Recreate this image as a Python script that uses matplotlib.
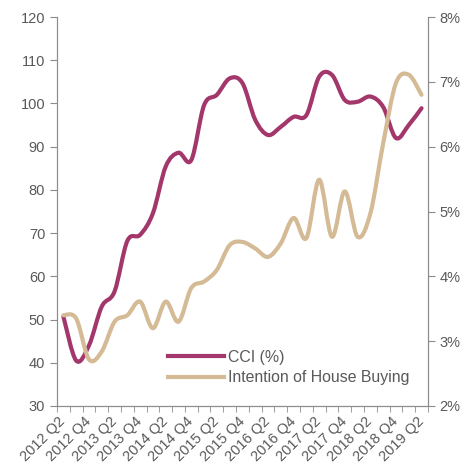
import numpy as np
import matplotlib
matplotlib.use('Agg')
import matplotlib.pyplot as plt
import matplotlib.transforms as mtransforms
from matplotlib.path import Path
from matplotlib.patches import PathPatch
from matplotlib.lines import Line2D
from matplotlib.ticker import FuncFormatter

plt.rcParams['font.family'] = ['Liberation Sans', 'DejaVu Sans']

# quarterly data, 2012 Q2 .. 2019 Q2
quarters = [f'{y} Q{q}' for y in range(2012, 2020) for q in range(1, 5)][1:30]
cci = [50.7, 40.5, 44.0, 53.0, 56.5, 68.2, 69.6, 74.6, 85.4, 88.6,
       86.9, 99.6, 102.0, 105.8, 104.7, 96.2, 92.7, 94.6, 96.9, 97.3,
       106.2, 106.6, 100.8, 100.4, 101.6, 99.2, 92.0, 95.0, 98.9]
house_buying = [3.40, 3.35, 2.72, 2.84, 3.30, 3.40, 3.61, 3.20, 3.61, 3.30,
                3.82, 3.92, 4.10, 4.48, 4.53, 4.43, 4.30, 4.51, 4.90, 4.59,
                5.49, 4.61, 5.31, 4.61, 4.97, 6.05, 6.98, 7.11, 6.80]

crimson = '#A3376B'
beige = '#D4BB96'
grey = '#595959'
spine_col = '#8C8C8C'


def smooth_path(x, y):
    # catmull-rom style smoothing like Excel's "smoothed line"
    pts = np.column_stack([x, y]).astype(float)
    ext = np.vstack([pts[0], pts, pts[-1]])
    verts = [pts[0]]
    codes = [Path.MOVETO]
    for i in range(len(pts) - 1):
        p0, p1, p2, p3 = ext[i], ext[i + 1], ext[i + 2], ext[i + 3]
        verts += [p1 + (p2 - p0) / 6, p2 - (p3 - p1) / 6, p2]
        codes += [Path.CURVE4] * 3
    return Path(verts, codes)


fig = plt.figure(figsize=(4.76, 4.70), dpi=100)
ax = fig.add_axes([0.1197, 0.1362, 0.7793, 0.8276])
ax2 = ax.twinx()

x = np.arange(len(quarters))
ax.add_patch(PathPatch(smooth_path(x, cci), fill=False, edgecolor=crimson,
                       lw=3, capstyle='round', joinstyle='round'))
ax2.add_patch(PathPatch(smooth_path(x, house_buying), fill=False, edgecolor=beige,
                        lw=3, capstyle='round', joinstyle='round'))

ax.set_xlim(-0.5, len(quarters) - 0.5)
ax.set_ylim(30, 120)
ax2.set_ylim(2, 8)
ax.set_yticks(range(30, 121, 10))
ax2.set_yticks(range(2, 9))
ax2.yaxis.set_major_formatter(FuncFormatter(lambda v, p: f'{v:.0f}%'))

ax.set_xticks(x[::2])
ax.set_xticklabels(quarters[::2], rotation=45, ha='right', rotation_mode='anchor')
ax.set_xticks(np.arange(-0.5, len(quarters), 1), minor=True)
ax.tick_params(axis='x', which='major', length=0, pad=6)
ax.tick_params(axis='x', which='minor', length=4, color=spine_col, direction='out')
shift = mtransforms.ScaledTranslation(-5 / 100, 0, fig.dpi_scale_trans)
for lbl in ax.get_xticklabels():
    lbl.set_transform(lbl.get_transform() + shift)

for a in (ax, ax2):
    for s in a.spines.values():
        s.set_color(spine_col)
    a.spines['top'].set_visible(False)
    a.tick_params(axis='both', labelsize=10.5, labelcolor=grey, color=spine_col)
ax.tick_params(axis='y', length=5)
ax2.tick_params(axis='y', length=5)

handles = [Line2D([], [], color=crimson, lw=3), Line2D([], [], color=beige, lw=3)]
fig.legend(handles, ['CCI (%)', 'Intention of House Buying'], loc='upper left',
           bbox_to_anchor=(0.3534, 0.2563), frameon=False, fontsize=11.4,
           handlelength=3.5, handletextpad=0.25, labelspacing=0.35,
           borderpad=0, borderaxespad=0, labelcolor=grey)

fig.savefig('out.png', dpi=100)
